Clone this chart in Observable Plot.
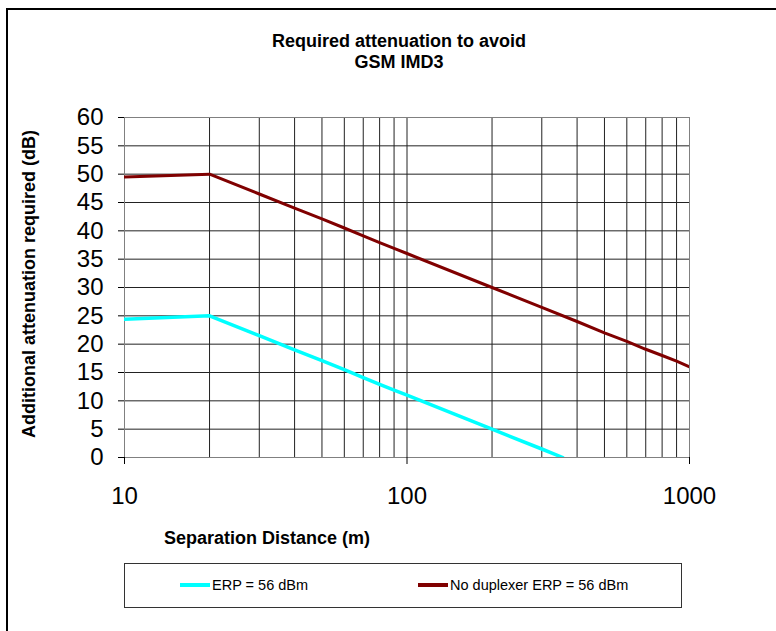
<!DOCTYPE html>
<html>
<head>
<meta charset="utf-8">
<script src="https://cdn.jsdelivr.net/npm/d3@7"></script>
<script src="https://cdn.jsdelivr.net/npm/@observablehq/plot@0.6"></script>
<style>
  html, body { margin: 0; padding: 0; background: #fff; }
  #wrap { position: relative; width: 776px; height: 631px; overflow: hidden; font-family: Arial, "Liberation Sans", sans-serif; }
  #frame { position: absolute; left: 6px; top: 8px; width: 800px; height: 700px; border-left: 2px solid #000; border-top: 2px solid #000; box-sizing: border-box; }
  #chart { position: absolute; left: 0; top: 0; }
  .t { position: absolute; white-space: nowrap; color: #000; }
  .title { left: 199px; width: 400px; text-align: center; font-weight: bold; font-size: 18px; line-height: 21px; top: 31px; }
  .xlabel { left: 164px; width: 200px; text-align: center; font-weight: bold; font-size: 18px; top: 528px; }
  .ylabel { font-weight: bold; font-size: 18px; left: 29px; top: 284px; transform: translate(-50%, -50%) rotate(-90deg); }
  #legend { position: absolute; left: 124px; top: 563px; width: 558px; height: 45px; border: 1px solid #333; box-sizing: border-box; font-size: 14.5px; }
  .item { position: absolute; top: 13px; display: flex; align-items: center; }
  .sw { width: 30px; height: 4px; margin-right: 2px; }
</style>
</head>
<body>
<div id="wrap">
  <div id="frame"></div>
  <div id="chart"></div>
  <div class="t title">Required attenuation to avoid<br>GSM IMD3</div>
  <div class="t xlabel">Separation Distance (m)</div>
  <div class="t ylabel">Additional attenuation required (dB)</div>
  <div id="legend"></div>
</div>
<script>
// ---- data ----
const distances = [10, 20, 30, 40, 50, 60, 70, 80, 90, 100, 200, 300, 400, 500, 600, 700, 800, 900, 1000];
const noDuplexerValues = [49.5, 50, 46.5, 44, 42.1, 40.5, 39.1, 37.9, 36.9, 36, 30, 26.5, 24, 22, 20.5, 19.1, 18, 17, 16];
const erpDistances = [10, 20, 30, 40, 50, 60, 70, 80, 90, 100, 200, 300, 356];
const erpValues = [24.4, 25, 21.5, 19, 17.1, 15.5, 14.1, 12.9, 11.9, 11, 5, 1.5, 0];
const seriesNames = ["ERP = 56 dBm", "No duplexer ERP = 56 dBm"];
const seriesColors = ["#00FFFF", "#800000"];
const xTicks = [10, 100, 1000];
const xGrid = [20, 30, 40, 50, 60, 70, 80, 90, 100, 200, 300, 400, 500, 600, 700, 800, 900];
const yTicks = [0, 5, 10, 15, 20, 25, 30, 35, 40, 45, 50, 55, 60];

const erpData = erpDistances.map((d, i) => ({x: d, y: erpValues[i]}));
const noDupData = distances.map((d, i) => ({x: d, y: noDuplexerValues[i]}));

const chart = Plot.plot({
  width: 776,
  height: 631,
  marginLeft: 124,
  marginRight: 87,
  marginTop: 117,
  marginBottom: 174,
  style: {fontFamily: "Arial, 'Liberation Sans', sans-serif", background: "transparent", color: "#000"},
  x: {type: "log", domain: [10, 1000]},
  y: {domain: [0, 60]},
  marks: [
    Plot.ruleX(xGrid, {stroke: "#222", strokeWidth: 1}),
    Plot.ruleY(yTicks.filter(v => v > 0), {stroke: "#222", strokeWidth: 1}),
    Plot.frame({stroke: "#808080"}),
    Plot.axisY({ticks: yTicks, tickSize: 6, tickPadding: 15, fontSize: 24, label: null, stroke: "#000"}),
    Plot.axisX({ticks: xTicks, tickFormat: d => String(d), tickSize: 7, tickPadding: 22, fontSize: 24, label: null, stroke: "#000"}),
    Plot.line(erpData, {x: "x", y: "y", stroke: seriesColors[0], strokeWidth: 3.5, clip: true}),
    Plot.line(noDupData, {x: "x", y: "y", stroke: seriesColors[1], strokeWidth: 3, clip: true})
  ]
});
document.getElementById("chart").appendChild(chart);

const legend = document.getElementById("legend");
const itemLeft = [55, 293];
seriesNames.forEach((name, i) => {
  const it = document.createElement("div");
  it.className = "item";
  it.style.left = itemLeft[i] + "px";
  const sw = document.createElement("div");
  sw.className = "sw";
  sw.style.background = seriesColors[i];
  const tx = document.createElement("span");
  tx.textContent = name;
  it.appendChild(sw);
  it.appendChild(tx);
  legend.appendChild(it);
});
</script>
</body>
</html>
